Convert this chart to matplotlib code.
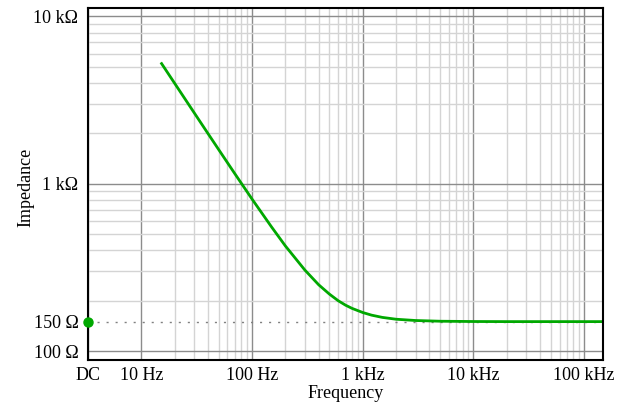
import matplotlib
matplotlib.use("Agg")
import matplotlib.pyplot as plt

plt.rcParams['font.family'] = ['Liberation Serif', 'DejaVu Serif']

# impedance curve (Hz, ohm)
freq = [15, 20, 30, 40, 50, 70, 100, 150, 200, 300, 400, 500, 600, 700, 800,
        1000, 1200, 1500, 2000, 3000, 5000, 10000, 20000, 50000, 150000]
impedance = [5307, 3982, 2657, 1995, 1599, 1147, 810, 552, 425, 305, 249, 219,
             200, 188, 180, 170, 164, 159, 155, 152.3, 150.8, 150.2, 150, 150, 150]

dc_value = 150
x_min, x_max = 3.3, 149000
y_min, y_max = 88.4, 11270

x_ticks = [x_min, 10, 100, 1000, 10000, 100000]
x_labels = ['DC', '10 Hz', '100 Hz', '1 kHz', '10 kHz', '100 kHz']
y_ticks = [100, 150, 1000, 10000]
y_labels = ['100 Ω', '150 Ω', '1 kΩ', '10 kΩ']

x_minor = [m * d for d in (10, 100, 1000, 10000) for m in range(2, 10)]
y_minor = [m * d for d in (100, 1000) for m in range(2, 10)]

fig = plt.figure(figsize=(6.3, 4.05), dpi=100)
ax = fig.add_axes([0.1397, 0.111, 0.818, 0.870])
ax.set_xscale('log')
ax.set_yscale('log')
ax.set_xlim(x_min, x_max)
ax.set_ylim(y_min, y_max)

ax.set_xticks(x_ticks)
ax.set_xticklabels(x_labels)
ax.set_xticks(x_minor, minor=True)
ax.set_xticklabels([], minor=True)
ax.set_yticks(y_ticks)
ax.set_yticklabels(y_labels)
ax.set_yticks(y_minor, minor=True)
ax.set_yticklabels([], minor=True)

ax.tick_params(which='both', length=0, labelsize=13)
ax.tick_params(axis='y', pad=7)
ax.tick_params(axis='x', pad=5)
ax.grid(which='major', color='#8c8c8c', linewidth=1.0)
ax.grid(which='minor', color='#d4d4d4', linewidth=1.0)
ax.yaxis.get_major_ticks()[1].gridline.set_visible(False)
ax.set_axisbelow(True)

for s in ax.spines.values():
    s.set_linewidth(1.5)

ax.plot([x_min, x_max], [dc_value, dc_value], color='#808080', linewidth=1.0,
        linestyle=(0, (1.5, 5)))
ax.plot(freq, impedance, color='#00a800', linewidth=2.0, solid_capstyle='butt')
ax.plot([x_min], [dc_value], 'o', color='#00a800', markersize=6.5, clip_on=False, zorder=5)

ax.set_xlabel('Frequency', fontsize=13, labelpad=1)
ax.set_ylabel('Impedance', fontsize=13)
ax.yaxis.set_label_coords(-0.104, 0.49)

fig.savefig('out.png', dpi=100)
